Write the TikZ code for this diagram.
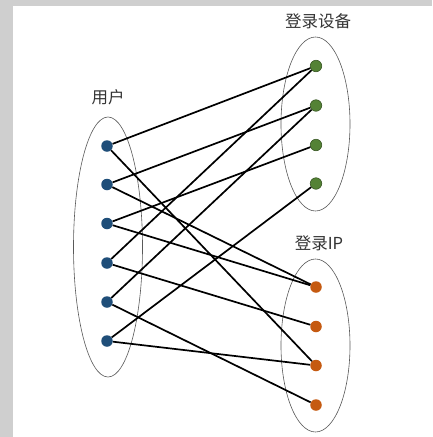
\documentclass[tikz,border=0pt]{standalone}
\usepackage{fontspec}
\newfontfamily\cjk{Noto Sans CJK SC}
\definecolor{bgray}{HTML}{CFCFCF}
\definecolor{ublue}{HTML}{1F4E79}
\definecolor{dgreen}{HTML}{548235}
\definecolor{dgreenb}{HTML}{385723}
\definecolor{iorange}{HTML}{C55A11}
\definecolor{egray}{HTML}{595959}
\begin{document}
\begin{tikzpicture}[x=1pt,y=-1pt,
  udot/.style={circle,fill=ublue,inner sep=0pt,minimum size=11.5pt},
  ddot/.style={circle,fill=dgreen,draw=dgreenb,line width=0.6pt,inner sep=0pt,minimum size=11.5pt},
  idot/.style={circle,fill=iorange,inner sep=0pt,minimum size=11.5pt},
  grp/.style={draw=egray,line width=0.6pt},
  lbl/.style={font=\cjk\fontsize{16.5}{19}\selectfont,text=black!80},
  link/.style={line width=1.7pt,black}]
\useasboundingbox (0,0) rectangle (432,437);
\fill[bgray] (0,0) rectangle (432,437);
\fill[white] (13,6) rectangle (432,437);
% groups
\draw[grp] (108,247) ellipse [x radius=34.5, y radius=130];
\draw[grp] (315.5,124) ellipse [x radius=34.5, y radius=87];
\draw[grp] (315.5,345.5) ellipse [x radius=34.5, y radius=86.5];
% labels
\node[lbl] (lu) at (108,97) {用户};
\node[lbl] (ld) at (318,21) {登录设备};
\node[lbl] (li) at (319,243) {登录IP};
% nodes
\foreach \i/\y in {1/146,2/184.5,3/223.5,4/263,5/302,6/341}
  \node[udot] (u\i) at (107,\y) {};
\foreach \i/\y in {1/66,2/105.5,3/145,4/183.5}
  \node[ddot] (d\i) at (316,\y) {};
\foreach \i/\y in {1/287,2/326.5,3/365.5,4/405}
  \node[idot] (p\i) at (316,\y) {};
% links
\draw[link] (u1) -- (d1);
\draw[link] (u1) -- (p3);
\draw[link] (u2) -- (d2);
\draw[link] (u2) -- (p1);
\draw[link] (u3) -- (d3);
\draw[link] (u3) -- (p1);
\draw[link] (u4) -- (d1);
\draw[link] (u4) -- (p2);
\draw[link] (u5) -- (d2);
\draw[link] (u5) -- (p4);
\draw[link] (u6) -- (d4);
\draw[link] (u6) -- (p3);
\end{tikzpicture}
\end{document}
